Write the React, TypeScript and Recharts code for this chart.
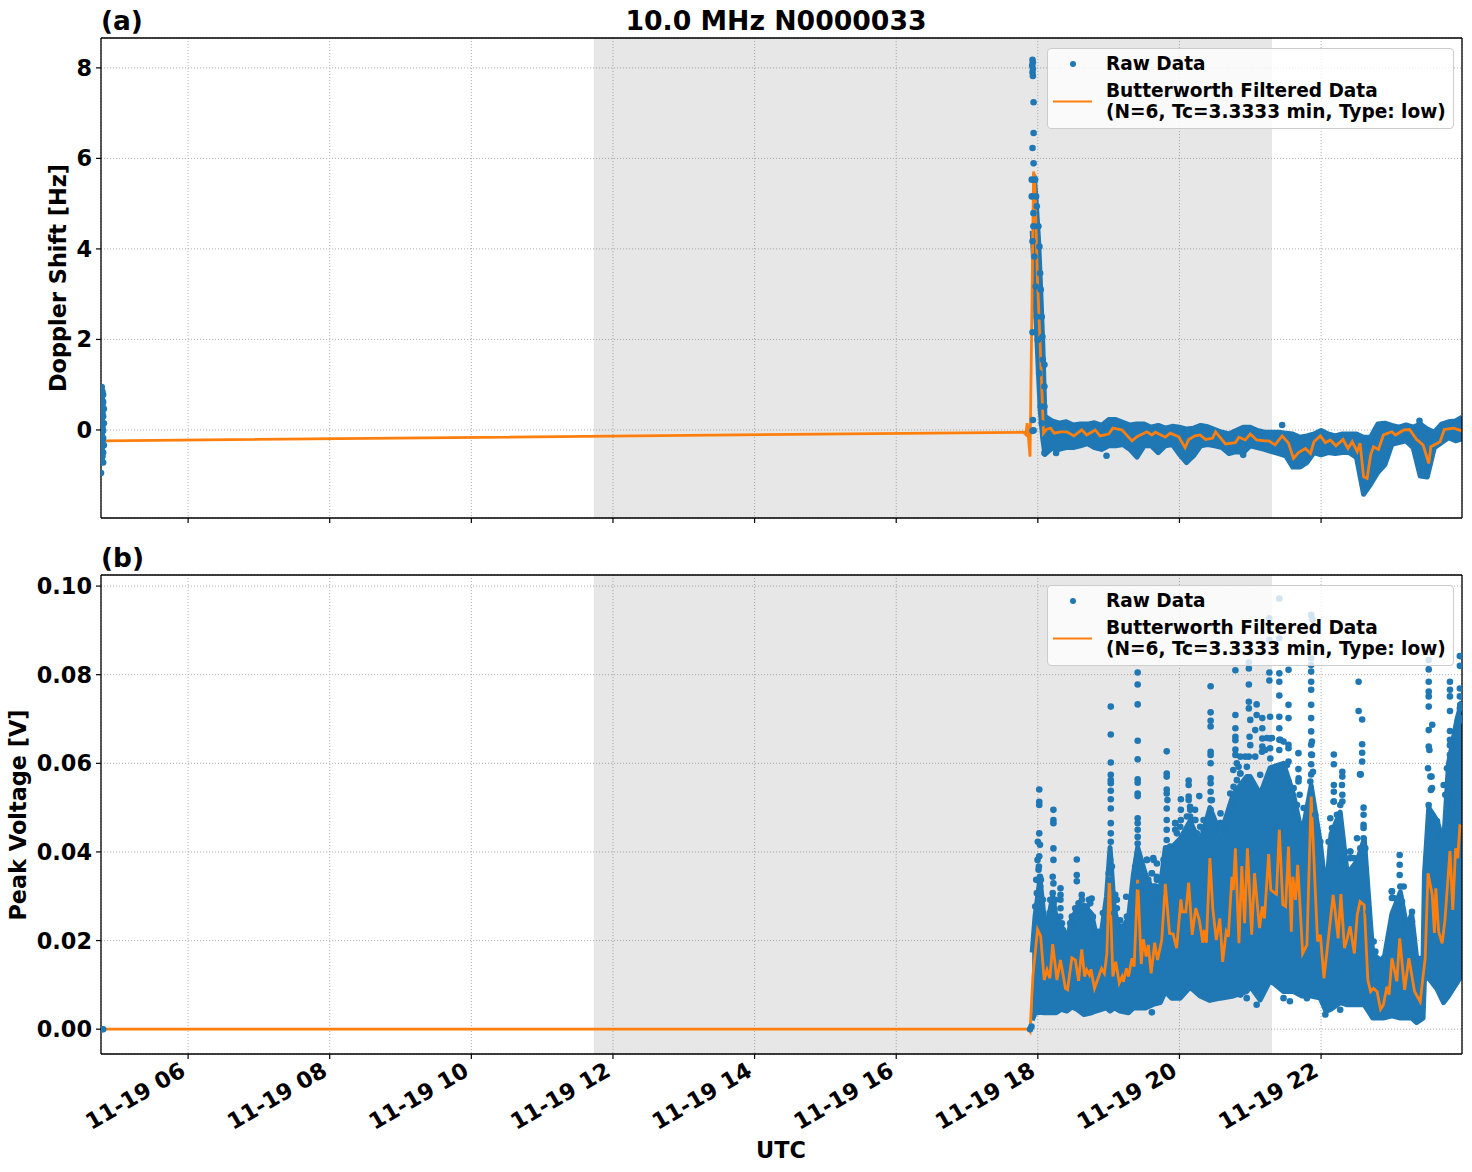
import { Area, CartesianGrid, ComposedChart, Label, Line, ReferenceArea, ReferenceLine, Scatter, XAxis, YAxis } from "recharts";

const FONT = "'DejaVu Sans', sans-serif";
const BLUE = "#1f77b4";
const ORANGE = "#ff7f0e";

const HOUR_TICKS = [6, 8, 10, 12, 14, 16, 18, 20, 22];
const DOPPLER_TICKS = [0, 2, 4, 6, 8];
const VOLT_TICKS = [0, 0.02, 0.04, 0.06, 0.08, 0.1];
const SHADE_START = 11.735;
const SHADE_END = 21.3;

// dense part of the raw data: [hour, low, high]
const dopplerBand = [
  [17.92, 4.4, 5.6], [17.935, 3.9, 5.6], [17.95, 3.3, 5.6], [17.97, 2.6, 5.2], [17.99, 1.9, 4.7], [18.01, 1.2, 4.2],
  [18.035, 0.4, 3.3], [18.07, -0.2, 1.9], [18.1, -0.54, 0.3], [18.2, -0.4, 0.2], [18.3, -0.43, 0.15], [18.4, -0.39, 0.18],
  [18.5, -0.39, 0.11], [18.6, -0.35, 0.13], [18.7, -0.3, 0.13], [18.8, -0.39, 0.16], [18.9, -0.43, 0.1], [19.0, -0.35, 0.23],
  [19.1, -0.35, 0.23], [19.2, -0.32, 0.17], [19.3, -0.43, 0.11], [19.4, -0.6, 0.13], [19.5, -0.35, 0.13], [19.6, -0.35, 0.06],
  [19.7, -0.5, 0.1], [19.8, -0.35, 0.04], [19.9, -0.32, 0.08], [20.0, -0.54, 0.06], [20.1, -0.72, 0.02], [20.2, -0.57, 0.04],
  [20.3, -0.35, 0.1], [20.4, -0.32, 0.07], [20.5, -0.35, 0.01], [20.6, -0.39, -0.05], [20.7, -0.52, -0.09], [20.8, -0.48, -0.01],
  [20.9, -0.5, 0.06], [21.0, -0.35, 0.06], [21.1, -0.39, -0.01], [21.2, -0.43, -0.05], [21.3, -0.48, -0.05], [21.4, -0.52, -0.05],
  [21.5, -0.57, -0.07], [21.6, -0.82, -0.09], [21.7, -0.82, -0.16], [21.8, -0.72, -0.13], [21.9, -0.5, -0.09], [22.0, -0.55, -0.01],
  [22.1, -0.5, -0.09], [22.2, -0.52, -0.13], [22.3, -0.5, -0.09], [22.4, -0.5, -0.09], [22.5, -0.61, -0.09], [22.6, -1.42, -0.16],
  [22.7, -1.2, -0.16], [22.8, -0.94, 0.13], [22.9, -0.77, 0.15], [23.0, -0.32, 0.1], [23.1, -0.28, 0.06], [23.2, -0.24, 0.11],
  [23.3, -0.39, 0.06], [23.4, -1.02, 0.13], [23.5, -1.04, 0.02], [23.6, -0.39, -0.05], [23.7, -0.28, 0.13], [23.8, -0.17, 0.18],
  [23.9, -0.24, 0.2], [23.99, -0.2, 0.28],
];

// stray raw points outside the dense part: [hour, value]
const dopplerRaw = [
  [4.78, 0.95], [4.79, 0.85], [4.8, 0.78], [4.78, 0.7], [4.8, 0.62], [4.79, 0.55], [4.81, 0.47], [4.79, 0.38], [4.8, 0.3],
  [4.78, 0.22], [4.81, 0.15], [4.79, 0.06], [4.8, -0.02], [4.78, -0.1], [4.8, -0.18], [4.79, -0.26], [4.81, -0.34], [4.78, -0.42],
  [4.8, -0.5], [4.79, -0.58], [4.78, -0.66], [4.8, -0.72], [4.77, -0.95],
  [17.925, 8.18], [17.93, 8.12], [17.92, 8.05], [17.93, 7.98], [17.925, 7.9], [17.93, 7.82], [17.94, 7.24], [17.94, 6.56],
  [17.925, 6.23], [17.94, 5.89], [17.925, 4.17], [17.925, 2.16], [17.93, 0.22], [17.94, -0.01], [17.925, -0.02],
  [17.961, 5.53], [17.975, 5.16], [17.985, 4.94], [18.008, 4.5], [18.022, 4.05], [18.032, 3.46], [18.041, 3.1], [18.055, 2.5],
  [18.065, 2.06], [18.07, 1.55], [18.093, 1.44], [18.093, 0.96], [18.093, 0.52],
  [17.914, 5.53], [17.914, 5.16], [17.938, 4.79], [17.938, 4.5], [17.952, 3.83], [17.97, 3.17], [17.985, 2.5], [17.999, 1.99],
  [18.018, 1.25], [18.041, 0.52], [18.055, 0.15], [18.093, -0.51], [18.258, -0.51], [18.173, -0.37],
  [21.45, 0.11], [23.39, 0.2], [20.9, -0.55], [18.97, -0.57],
];

const dopplerFiltered = [
  [4.77, 0.22], [4.81, -0.24], [17.8, -0.05], [17.83, -0.1], [17.85, 0.15], [17.89, -0.59], [17.94, 5.71], [17.955, 5.6],
  [17.995, 3.3], [18.03, 1.99], [18.08, -0.07], [18.12, 0.01], [18.18, 0.04], [18.23, -0.07], [18.32, -0.04], [18.41, -0.04],
  [18.51, -0.13], [18.62, 0], [18.69, -0.11], [18.81, 0], [18.88, -0.13], [19.0, -0.09], [19.06, 0.04], [19.19, 0],
  [19.33, -0.24], [19.4, -0.15], [19.54, -0.04], [19.61, -0.11], [19.66, -0.05], [19.8, -0.16], [19.87, -0.07], [19.99, -0.15],
  [20.08, -0.39], [20.13, -0.21], [20.22, -0.13], [20.29, -0.11], [20.37, -0.21], [20.47, -0.18], [20.51, -0.04], [20.65, -0.31],
  [20.79, -0.28], [20.84, -0.16], [20.93, -0.22], [21.0, -0.09], [21.09, -0.22], [21.21, -0.24], [21.26, -0.24], [21.35, -0.33],
  [21.45, -0.13], [21.54, -0.29], [21.61, -0.63], [21.68, -0.5], [21.78, -0.41], [21.85, -0.52], [21.9, -0.26], [21.99, -0.13],
  [22.06, -0.28], [22.13, -0.22], [22.21, -0.35], [22.31, -0.21], [22.38, -0.41], [22.44, -0.26], [22.51, -0.48], [22.55, -0.29],
  [22.6, -1.03], [22.65, -1.07], [22.7, -0.55], [22.74, -0.37], [22.81, -0.43], [22.88, -0.11], [23.0, -0.04], [23.05, -0.11],
  [23.17, 0], [23.25, 0.01], [23.35, -0.21], [23.44, -0.33], [23.52, -0.74], [23.55, -0.37], [23.68, -0.26], [23.74, 0.01],
  [23.87, 0.04], [23.97, -0.01], [23.99, 0],
];

const voltBand = [
  [17.92, 0.002, 0.0173], [17.96, 0.0036, 0.0254], [18.03, 0.0038, 0.034], [18.09, 0.0037, 0.025], [18.15, 0.0037, 0.025],
  [18.21, 0.0037, 0.03], [18.26, 0.0037, 0.025], [18.33, 0.0045, 0.0235], [18.41, 0.0041, 0.02], [18.48, 0.005, 0.025],
  [18.55, 0.0045, 0.027], [18.65, 0.0033, 0.028], [18.76, 0.0037, 0.026], [18.82, 0.0041, 0.0215], [18.9, 0.0045, 0.022],
  [18.97, 0.0048, 0.03], [19.02, 0.0041, 0.041], [19.08, 0.0048, 0.027], [19.16, 0.0041, 0.022], [19.28, 0.0037, 0.025],
  [19.35, 0.0048, 0.035], [19.41, 0.0048, 0.041], [19.52, 0.0048, 0.035], [19.63, 0.0056, 0.031], [19.73, 0.006, 0.032],
  [19.8, 0.0085, 0.041], [19.89, 0.007, 0.041], [20.01, 0.007, 0.043], [20.15, 0.0095, 0.047], [20.29, 0.0075, 0.042],
  [20.43, 0.0065, 0.05], [20.58, 0.007, 0.044], [20.76, 0.0075, 0.053], [20.95, 0.0085, 0.057], [21.0, 0.0097, 0.057],
  [21.14, 0.0066, 0.053], [21.28, 0.011, 0.059], [21.47, 0.0085, 0.06], [21.61, 0.0085, 0.053], [21.73, 0.0075, 0.044],
  [21.86, 0.0075, 0.055], [21.99, 0.007, 0.042], [22.07, 0.004, 0.0305], [22.14, 0.0045, 0.044], [22.27, 0.006, 0.049],
  [22.37, 0.0055, 0.035], [22.51, 0.0055, 0.038], [22.61, 0.0055, 0.043], [22.67, 0.004, 0.03], [22.73, 0.0025, 0.017],
  [22.88, 0.0025, 0.015], [23.0, 0.003, 0.026], [23.12, 0.0025, 0.031], [23.21, 0.0025, 0.023], [23.28, 0.0025, 0.026],
  [23.35, 0.0015, 0.016], [23.44, 0.0025, 0.016], [23.46, 0.0115, 0.035], [23.52, 0.0115, 0.05], [23.64, 0.009, 0.047],
  [23.73, 0.006, 0.042], [23.8, 0.0075, 0.06], [23.92, 0.0105, 0.07], [23.99, 0.0125, 0.074],
];

const voltRaw = [
  [4.78, 0], [4.8, 0], [17.89, 0], [17.91, 0.0006],
  [18.02, 0.0541], [18.02, 0.0513], [18.02, 0.0506], [18.02, 0.0442], [18.0, 0.0423], [18.03, 0.0416], [18.02, 0.039], [18.01, 0.036], [18.03, 0.0344],
  [18.22, 0.0495], [18.22, 0.0472], [18.22, 0.0465], [18.22, 0.0408], [18.22, 0.0382], [18.21, 0.0344], [18.22, 0.0329], [18.21, 0.0307],
  [18.32, 0.0318], [18.32, 0.0303], [18.32, 0.0292], [18.32, 0.0273],
  [18.55, 0.0383], [18.55, 0.0348], [18.55, 0.0334], [18.62, 0.0303], [18.76, 0.0295], [18.72, 0.0292],
  [19.03, 0.0728], [19.03, 0.0665], [19.03, 0.0602], [19.03, 0.0574], [19.03, 0.0562], [19.03, 0.0555], [19.03, 0.0538], [19.03, 0.0519], [19.03, 0.0498], [19.03, 0.0465], [19.03, 0.0442], [19.03, 0.0423],
  [19.41, 0.0805], [19.41, 0.0778], [19.41, 0.0733], [19.41, 0.0651], [19.41, 0.0609], [19.41, 0.0564], [19.41, 0.0556], [19.41, 0.0532], [19.41, 0.0526], [19.41, 0.0476], [19.41, 0.0465], [19.41, 0.045], [19.41, 0.0434], [19.41, 0.0419], [19.41, 0.0397],
  [19.54, 0.0382], [19.63, 0.0386], [19.61, 0.0352], [19.68, 0.0344], [19.56, 0.0337], [19.66, 0.0322],
  [19.82, 0.0627], [19.82, 0.0577], [19.82, 0.057], [19.82, 0.0541], [19.82, 0.0532], [19.83, 0.0517], [19.82, 0.0498], [19.82, 0.0472], [19.82, 0.045], [19.82, 0.0427],
  [20.02, 0.0519], [20.02, 0.0495], [20.02, 0.0472], [19.94, 0.0465], [19.94, 0.045],
  [20.13, 0.0561], [20.13, 0.0551], [20.13, 0.0525], [20.13, 0.0517], [20.28, 0.0526], [20.15, 0.0502], [20.15, 0.048], [20.22, 0.0495], [20.22, 0.0472], [20.34, 0.0472], [20.34, 0.045],
  [20.44, 0.0774], [20.44, 0.0715], [20.44, 0.0696], [20.44, 0.0683], [20.44, 0.0626], [20.44, 0.0619], [20.44, 0.06], [20.44, 0.0566], [20.44, 0.0555], [20.44, 0.0536], [20.44, 0.0517], [20.44, 0.0495],
  [20.58, 0.0487], [20.58, 0.0465], [20.58, 0.0442],
  [20.79, 0.081], [20.79, 0.0709], [20.79, 0.0679], [20.79, 0.066], [20.79, 0.0652], [20.79, 0.0631], [20.79, 0.0619], [20.76, 0.0585], [20.86, 0.0577], [20.81, 0.06],
  [20.98, 0.0828], [20.98, 0.0814], [20.98, 0.0778], [20.98, 0.0739], [20.98, 0.0724], [20.98, 0.0615],
  [21.09, 0.0733], [21.09, 0.0709], [21.0, 0.0698], [21.07, 0.0675], [20.99, 0.066],
  [21.17, 0.0702], [21.17, 0.0679], [21.17, 0.0656], [21.17, 0.0638],
  [21.28, 0.0705], [21.28, 0.0656], [21.28, 0.0634],
  [21.27, 0.0927], [21.27, 0.0878], [21.27, 0.0805], [21.27, 0.0787],
  [21.41, 0.0972], [21.41, 0.0882], [21.41, 0.0803], [21.41, 0.0784], [21.41, 0.0753], [21.41, 0.0705], [21.41, 0.0679], [21.41, 0.0653], [21.41, 0.063],
  [21.54, 0.0811], [21.54, 0.0732], [21.54, 0.0702], [21.54, 0.0642], [21.54, 0.0604],
  [21.68, 0.0623], [21.68, 0.0587], [21.68, 0.0559],
  [21.86, 0.0935], [21.88, 0.0924], [21.86, 0.0837], [21.86, 0.0822], [21.86, 0.0807], [21.86, 0.0784], [21.86, 0.0766], [21.86, 0.0732], [21.86, 0.0702], [21.86, 0.0672], [21.86, 0.0642], [21.86, 0.062], [21.86, 0.0598], [21.86, 0.0575],
  [22.18, 0.062], [22.18, 0.0598], [22.18, 0.0551], [22.18, 0.0536], [22.18, 0.0514],
  [22.3, 0.0581], [22.3, 0.057], [22.3, 0.0529], [22.3, 0.0514],
  [22.53, 0.0784], [22.53, 0.0718], [22.58, 0.0699], [22.58, 0.0643], [22.58, 0.0624], [22.58, 0.0604], [22.55, 0.0575], [22.56, 0.0575],
  [22.6, 0.05], [22.6, 0.0484], [22.6, 0.0461], [22.6, 0.0431], [22.6, 0.0401], [22.41, 0.0401], [22.41, 0.0386],
  [23.11, 0.0393], [23.11, 0.0371], [23.11, 0.0348], [23.0, 0.0311], [23.0, 0.0296],
  [23.52, 0.0833], [23.52, 0.0812], [23.52, 0.0784], [23.52, 0.0762], [23.52, 0.0751], [23.52, 0.0728], [23.52, 0.0675], [23.52, 0.0638], [23.53, 0.063], [23.51, 0.0589], [23.57, 0.0687], [23.56, 0.057], [23.55, 0.054],
  [23.82, 0.0784], [23.82, 0.0766], [23.82, 0.0751], [23.82, 0.0718], [23.82, 0.0673], [23.82, 0.0653], [23.82, 0.0641], [23.82, 0.0619],
  [23.96, 0.0842], [23.96, 0.082], [23.96, 0.0769], [23.96, 0.0751], [23.96, 0.0724], [23.96, 0.0702],
];

// loose points that fray the edge of the dense part
const voltFringe = [
  [17.986, 0.0307], [18.034, 0.0322], [17.963, 0.0277], [18.071, 0.0292], [18.043, 0.0337], [17.977, 0.0337], [18.015, 0.0367], [17.996, 0.0382],
  [18.175, 0.0292], [18.22, 0.0284], [18.165, 0.0262], [18.245, 0.0292], [18.2, 0.0273],
  [18.316, 0.0254], [18.34, 0.0239], [18.307, 0.0231], [18.27, 0.0246], [18.354, 0.0224], [18.41, 0.0216],
  [18.48, 0.0254], [18.528, 0.0273], [18.575, 0.0284], [18.622, 0.0292], [18.69, 0.0277], [18.74, 0.0284], [18.457, 0.0239], [18.67, 0.0262], [18.777, 0.0254], [18.74, 0.0239], [18.919, 0.0262], [18.857, 0.022],
  [19.022, 0.0382], [19.0, 0.0352], [19.046, 0.0367], [19.013, 0.0337], [19.093, 0.0303], [19.116, 0.0292], [19.08, 0.0262], [19.116, 0.0273],
  [19.163, 0.0246], [19.248, 0.0299], [19.258, 0.0254], [19.328, 0.0284], [19.187, 0.0231], [19.258, 0.0239],
  [19.375, 0.0367], [19.446, 0.0367], [19.399, 0.0382], [19.54, 0.0382], [19.634, 0.0382], [19.681, 0.0374], [19.446, 0.0352], [19.61, 0.0352], [19.681, 0.0337], [19.54, 0.0314], [19.634, 0.0322], [19.587, 0.0292], [19.681, 0.0292], [19.422, 0.0322], [19.728, 0.0307],
  [19.775, 0.0382], [19.822, 0.0404], [19.94, 0.0465], [20.011, 0.0457], [19.964, 0.0442], [19.87, 0.0412], [20.034, 0.0427], [20.105, 0.048], [20.152, 0.0495], [20.223, 0.0472], [20.081, 0.0442], [20.152, 0.0457], [20.293, 0.0457], [20.34, 0.0427], [20.246, 0.0442], [20.387, 0.0457], [20.458, 0.0517], [20.529, 0.0457], [20.576, 0.0465], [20.623, 0.0427], [20.717, 0.0502], [20.764, 0.0547], [20.811, 0.0562], [20.858, 0.0577], [20.952, 0.0592], [20.717, 0.0532], [20.67, 0.0442], [20.835, 0.0592],
  [20.86, 0.0615], [20.93, 0.0615], [21.0, 0.0641], [21.07, 0.0615], [21.165, 0.0626], [21.14, 0.0574], [21.283, 0.0611], [21.306, 0.0657], [21.236, 0.0657], [21.21, 0.063], [21.424, 0.0653], [21.47, 0.0649], [21.54, 0.0634], [21.353, 0.0589], [21.518, 0.0596], [21.448, 0.0559], [21.54, 0.0559], [21.612, 0.0544], [21.683, 0.0566], [21.697, 0.0529], [21.66, 0.0506], [21.753, 0.0499], [21.636, 0.0499], [21.73, 0.0446],
  [21.871, 0.0649], [21.871, 0.0619], [21.885, 0.0581], [21.848, 0.0559], [21.918, 0.0484], [21.989, 0.0423], [21.951, 0.0446],
  [22.13, 0.0476], [22.177, 0.0514], [22.271, 0.0506], [22.154, 0.0454], [22.224, 0.0484], [22.295, 0.0551], [22.2, 0.0446], [22.107, 0.0423],
  [22.413, 0.0401], [22.46, 0.0386], [22.53, 0.0386], [22.6, 0.0454], [22.624, 0.0408], [22.507, 0.0431], [22.554, 0.0408], [22.483, 0.0363],
  [23.0, 0.0311], [23.025, 0.0296], [23.119, 0.0322], [23.166, 0.0322], [23.142, 0.0288], [23.07, 0.0273], [23.213, 0.0235], [23.284, 0.0265], [23.284, 0.0243], [22.742, 0.0198], [22.766, 0.0175], [22.67, 0.0265], [22.883, 0.016],
  [23.519, 0.0506], [23.566, 0.0484], [23.637, 0.0469], [23.684, 0.0386], [23.543, 0.057], [23.566, 0.0544], [23.731, 0.0551], [23.754, 0.0529], [23.825, 0.0641], [23.872, 0.0574], [23.778, 0.0589], [23.849, 0.0506], [23.943, 0.0694], [23.919, 0.0649], [23.966, 0.0732], [23.896, 0.0604],
  [19.61, 0.0038], [21.09, 0.0055], [21.47, 0.007], [21.56, 0.0063], [21.8, 0.007], [22.06, 0.0033], [22.27, 0.0044], [20.95, 0.007], [20.86, 0.0078],
];

const voltFiltered = [
  [4.77, 0], [17.87, 0], [17.89, -0.0005], [17.93, 0.0119], [17.996, 0.0225], [18.04, 0.021], [18.09, 0.0111], [18.13, 0.0134],
  [18.17, 0.0115], [18.21, 0.0192], [18.27, 0.0111], [18.32, 0.0156], [18.39, 0.0092], [18.42, 0.0089], [18.48, 0.0161],
  [18.53, 0.0156], [18.575, 0.0109], [18.62, 0.018], [18.66, 0.0119], [18.69, 0.0134], [18.73, 0.0122], [18.75, 0.0135],
  [18.8, 0.0092], [18.9, 0.0137], [18.94, 0.0126], [18.975, 0.0171], [19.01, 0.0348], [19.06, 0.0119], [19.1, 0.0152],
  [19.15, 0.0104], [19.19, 0.0119], [19.21, 0.0107], [19.25, 0.0137], [19.28, 0.0119], [19.33, 0.016], [19.36, 0.0141],
  [19.41, 0.0337], [19.46, 0.0147], [19.49, 0.0203], [19.53, 0.0164], [19.56, 0.019], [19.6, 0.0126], [19.65, 0.0195],
  [19.69, 0.0156], [19.75, 0.0201], [19.8, 0.0328], [19.86, 0.0216], [19.91, 0.0215], [19.96, 0.0183], [20.02, 0.0293],
  [20.04, 0.0265], [20.09, 0.0265], [20.13, 0.0331], [20.18, 0.0213], [20.23, 0.0273], [20.28, 0.0246], [20.33, 0.0195],
  [20.35, 0.0224], [20.38, 0.0195], [20.43, 0.0386], [20.47, 0.0273], [20.52, 0.0201], [20.57, 0.025], [20.61, 0.0152],
  [20.66, 0.022], [20.69, 0.0209], [20.74, 0.0344], [20.76, 0.0314], [20.79, 0.0408], [20.84, 0.0194], [20.88, 0.0368],
  [20.92, 0.0239], [20.96, 0.0408], [21.02, 0.0213], [21.06, 0.0352], [21.13, 0.0228], [21.17, 0.0277], [21.2, 0.025],
  [21.26, 0.0395], [21.29, 0.0314], [21.37, 0.0305], [21.41, 0.045], [21.46, 0.0281], [21.5, 0.0277], [21.54, 0.0412],
  [21.58, 0.022], [21.6, 0.0344], [21.64, 0.0292], [21.67, 0.0371], [21.74, 0.0171], [21.8, 0.019], [21.86, 0.0525],
  [21.95, 0.0198], [21.99, 0.0213], [22.04, 0.0115], [22.08, 0.0171], [22.17, 0.0303], [22.2, 0.0265], [22.24, 0.0205],
  [22.28, 0.0305], [22.33, 0.0183], [22.37, 0.0205], [22.41, 0.0232], [22.47, 0.0171], [22.51, 0.0258], [22.55, 0.0288],
  [22.61, 0.028], [22.66, 0.0111], [22.7, 0.0085], [22.74, 0.0092], [22.79, 0.0085], [22.84, 0.0045], [22.88, 0.0055],
  [22.93, 0.0096], [22.96, 0.0078], [23.0, 0.016], [23.07, 0.0108], [23.11, 0.0205], [23.18, 0.0089], [23.24, 0.016],
  [23.32, 0.0085], [23.4, 0.0062], [23.44, 0.0119], [23.47, 0.016], [23.51, 0.0352], [23.57, 0.0303], [23.6, 0.0217],
  [23.62, 0.0318], [23.66, 0.022], [23.71, 0.0194], [23.75, 0.0247], [23.82, 0.0402], [23.86, 0.0269], [23.9, 0.0408],
  [23.93, 0.0386], [23.96, 0.0459], [23.99, 0.0457],
];

const toPoints = (rows: number[][]) => rows.map(([t, v]) => ({ t, v }));
const toBand = (rows: number[][]) => rows.map(([t, lo, hi]) => ({ t, range: [lo, hi] }));

const tickStyle = { fontFamily: FONT, fontSize: 22.4, fontWeight: 700, fill: "#000" };
const textStyle: React.CSSProperties = { position: "absolute", fontFamily: FONT, fontWeight: 700, color: "#000", whiteSpace: "pre", lineHeight: 1 };

function Dot(props: any) {
  return <circle cx={props.cx} cy={props.cy} r={3.3} fill={BLUE} />;
}

function BlankTick() {
  return <g />;
}

function DateTick({ x, y, payload }: any) {
  return (
    <text x={x - 1} y={y + 14} textAnchor="end" transform={`rotate(-30 ${x - 1} ${y + 14})`} {...tickStyle}>
      {`11-19 ${String(payload.value).padStart(2, "0")}`}
    </text>
  );
}

function RotatedLabel({ x, y, text }: { x: number; y: number; text: string }) {
  return (
    <text x={x} y={y} textAnchor="middle" transform={`rotate(-90 ${x} ${y})`} {...tickStyle}>
      {text}
    </text>
  );
}

interface PanelProps {
  top: number;
  height: number;
  axisHeight: number;
  domain: number[];
  ticks: number[];
  digits: number;
  band: number[][];
  raw: number[][];
  filtered: number[][];
  yLabel: string;
  labelX: number;
  labelY: number;
  showDates?: boolean;
}

function Panel(p: PanelProps) {
  const [ymin, ymax] = p.domain;
  return (
    <div style={{ position: "absolute", left: 0, top: p.top }}>
      <ComposedChart width={1472} height={p.height} margin={{ top: 38, right: 10, bottom: 0, left: 10 }}>
        <CartesianGrid stroke="#b0b0b0" strokeDasharray="1.1 1.9" strokeWidth={1} />
        <XAxis
          type="number"
          dataKey="t"
          domain={[4.77, 23.99]}
          allowDataOverflow
          ticks={HOUR_TICKS}
          interval={0}
          height={p.axisHeight}
          tickSize={5}
          tickLine={{ stroke: "#000", strokeWidth: 1.2 }}
          tick={p.showDates ? DateTick : BlankTick}
          axisLine={{ stroke: "#000", strokeWidth: 1.3 }}
        >
          {p.showDates && <Label content={() => <text x={781} y={621} textAnchor="middle" {...tickStyle}>UTC</text>} />}
        </XAxis>
        <YAxis
          type="number"
          domain={p.domain}
          allowDataOverflow
          ticks={p.ticks}
          interval={0}
          width={91}
          tickSize={5}
          tickMargin={4}
          tickLine={{ stroke: "#000", strokeWidth: 1.2 }}
          axisLine={{ stroke: "#000", strokeWidth: 1.3 }}
          tick={tickStyle}
          tickFormatter={(v: number) => v.toFixed(p.digits)}
        >
          <Label content={() => <RotatedLabel x={p.labelX} y={p.labelY} text={p.yLabel} />} />
        </YAxis>
        <ReferenceArea x1={SHADE_START} x2={SHADE_END} y1={ymin} y2={ymax} fill="#808080" fillOpacity={0.19} stroke="#808080" strokeOpacity={0.1} />
        <Area data={toBand(p.band)} dataKey="range" type="linear" stroke={BLUE} strokeWidth={5} strokeLinejoin="round" fill={BLUE} fillOpacity={1} dot={false} activeDot={false} isAnimationActive={false} />
        <Scatter data={toPoints(p.raw)} dataKey="v" shape={Dot} isAnimationActive={false} />
        <Line data={toPoints(p.filtered)} dataKey="v" type="linear" stroke={ORANGE} strokeWidth={2.8} dot={false} activeDot={false} isAnimationActive={false} />
        <ReferenceLine y={ymax} stroke="#000" strokeWidth={1.3} />
        <ReferenceLine x={23.99} stroke="#000" strokeWidth={1.3} />
      </ComposedChart>
    </div>
  );
}

function ChartLegend({ top }: { top: number }) {
  return (
    <div style={{ position: "absolute", left: 1047, top, width: 405, height: 79, background: "rgba(255,255,255,0.8)", border: "1px solid #ccc", borderRadius: 4 }}>
      <svg width={60} height={79} style={{ position: "absolute", left: 0, top: 0 }}>
        <circle cx={25} cy={15} r={3} fill={BLUE} />
        <line x1={5} x2={44} y1={52.5} y2={52.5} stroke={ORANGE} strokeWidth={2} />
      </svg>
      <div style={{ ...textStyle, left: 58, top: 6, fontSize: 18.55 }}>Raw Data</div>
      <div style={{ ...textStyle, left: 58, top: 33, fontSize: 18.55 }}>Butterworth Filtered Data</div>
      <div style={{ ...textStyle, left: 58, top: 54, fontSize: 18.55 }}>(N=6, Tc=3.3333 min, Type: low)</div>
    </div>
  );
}

export default function App() {
  return (
    <div style={{ position: "absolute", left: 0, top: 0, width: 1472, height: 1172, background: "#fff", overflow: "hidden" }}>
      <Panel
        top={0}
        height={530}
        axisHeight={12}
        domain={[-1.945, 8.66]}
        ticks={DOPPLER_TICKS}
        digits={0}
        band={dopplerBand}
        raw={dopplerRaw}
        filtered={dopplerFiltered}
        yLabel="Doppler Shift [Hz]"
        labelX={66}
        labelY={278}
      />
      <Panel
        top={537}
        height={635}
        axisHeight={118}
        domain={[-0.0056, 0.1025]}
        ticks={VOLT_TICKS}
        digits={2}
        band={voltBand}
        raw={[...voltRaw, ...voltFringe]}
        filtered={voltFiltered}
        yLabel="Peak Voltage [V]"
        labelX={26}
        labelY={278}
        showDates
      />
      <ChartLegend top={48} />
      <ChartLegend top={585} />
      <div style={{ ...textStyle, left: 101, top: 8, fontSize: 26.4 }}>(a)</div>
      <div style={{ ...textStyle, left: 101, top: 545, fontSize: 26.4 }}>(b)</div>
      <div style={{ ...textStyle, left: 476, width: 600, textAlign: "center", top: 8, fontSize: 26.7 }}>10.0 MHz N0000033</div>
    </div>
  );
}
